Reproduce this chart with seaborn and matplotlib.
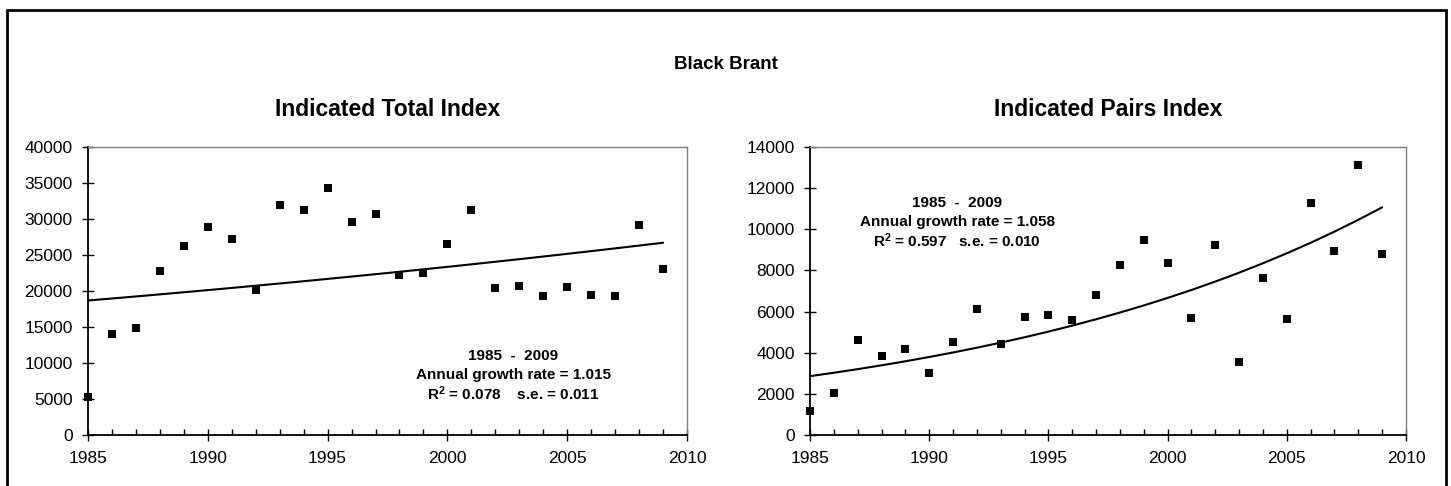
import numpy as np
import pandas as pd
import matplotlib
matplotlib.use("Agg")
import matplotlib.pyplot as plt
import seaborn as sns
from matplotlib.ticker import MultipleLocator
from matplotlib.patches import Rectangle

years = list(range(1985, 2010))
total_index = [5230, 13990, 14830, 22750, 26290, 28830, 27160, 20110, 31940, 31200,
               34350, 29530, 30690, 22250, 22480, 26470, 31240, 20390, 20630, 19280,
               20530, 19510, 19280, 29150, 23090]
pairs_index = [1150, 2020, 4630, 3840, 4180, 2990, 4520, 6120, 4440, 5730,
               5840, 5590, 6800, 8250, 9490, 8380, 5680, 9220, 3570, 7620,
               5640, 11290, 8930, 13130, 8820]

# exponential trend: start value (1985) and annual growth rate
total_trend = (18680, 1.015)
pairs_trend = (2860, 1.058)

total_notes = ["1985  -  2009", "Annual growth rate = 1.015", r"R$^2$ = 0.078    s.e. = 0.011"]
pairs_notes = ["1985  -  2009", "Annual growth rate = 1.058", r"R$^2$ = 0.597   s.e. = 0.010"]

sns.set_style("white")
plt.rcParams["font.family"] = ["Liberation Sans", "DejaVu Sans"]
plt.rcParams["text.color"] = "black"
plt.rcParams["xtick.color"] = "black"
plt.rcParams["ytick.color"] = "black"
plt.rcParams["mathtext.fontset"] = "custom"
plt.rcParams["mathtext.rm"] = "Liberation Sans:bold"
plt.rcParams["mathtext.it"] = "Liberation Sans:bold"

W, H = 1451, 486
fig = plt.figure(figsize=(W / 100, H / 100), dpi=100)
fig.patches.append(Rectangle((6.5 / W, -0.01), (1445.5 - 6.5) / W, 1 - 10 / H + 0.01,
                             transform=fig.transFigure, fill=False, edgecolor="black", linewidth=2))
fig.text(0.5, 1 - 64 / H, "Black Brant", ha="center", va="center", fontsize=13.5, fontweight="bold")

ax1 = fig.add_axes([88 / W, 1 - 435 / H, (687 - 88) / W, 288 / H])
ax2 = fig.add_axes([810 / W, 1 - 435 / H, (1406 - 810) / W, 288 / H])


def draw(ax, values, trend, notes, title, ymax, ystep, note_xy):
    df = pd.DataFrame({"year": years, "value": values})
    df["trend"] = trend[0] * trend[1] ** (df["year"] - years[0])
    sns.lineplot(data=df, x="year", y="trend", color="black", linewidth=1.5, ax=ax)
    sns.scatterplot(data=df, x="year", y="value", marker="s", s=28, color="black",
                    edgecolor="black", linewidth=0, ax=ax, zorder=3, clip_on=False)
    ax.set_xlim(1985, 2010)
    ax.set_ylim(0, ymax)
    ax.xaxis.set_major_locator(MultipleLocator(5))
    ax.xaxis.set_minor_locator(MultipleLocator(1))
    ax.yaxis.set_major_locator(MultipleLocator(ystep))
    ax.tick_params(axis="x", which="major", direction="inout", length=9, width=1, labelsize=12.5, pad=7)
    ax.tick_params(axis="x", which="minor", direction="in", length=4, width=1)
    ax.tick_params(axis="y", which="major", direction="inout", length=8, width=1, labelsize=12.5, pad=7)
    ax.tick_params(bottom=True, left=True, which="both")
    for s in ["left", "bottom"]:
        ax.spines[s].set_color("black")
        ax.spines[s].set_linewidth(1.3)
    for s in ["top", "right"]:
        ax.spines[s].set_color("#808080")
        ax.spines[s].set_linewidth(1)
    ax.set_xlabel("")
    ax.set_ylabel("")
    ax.set_title(title, fontsize=16.5, fontweight="bold", pad=22)
    x, y0 = note_xy
    for i, line in enumerate(notes):
        fig.text(x / W, 1 - (y0 + i * 19) / H, line, fontsize=11,
                 fontweight="bold", ha="center", va="center")


draw(ax1, total_index, total_trend, total_notes, "Indicated Total Index", 40000, 5000, (513, 356))
draw(ax2, pairs_index, pairs_trend, pairs_notes, "Indicated Pairs Index", 14000, 2000, (957, 203))

fig.savefig("out.png", dpi=100)
